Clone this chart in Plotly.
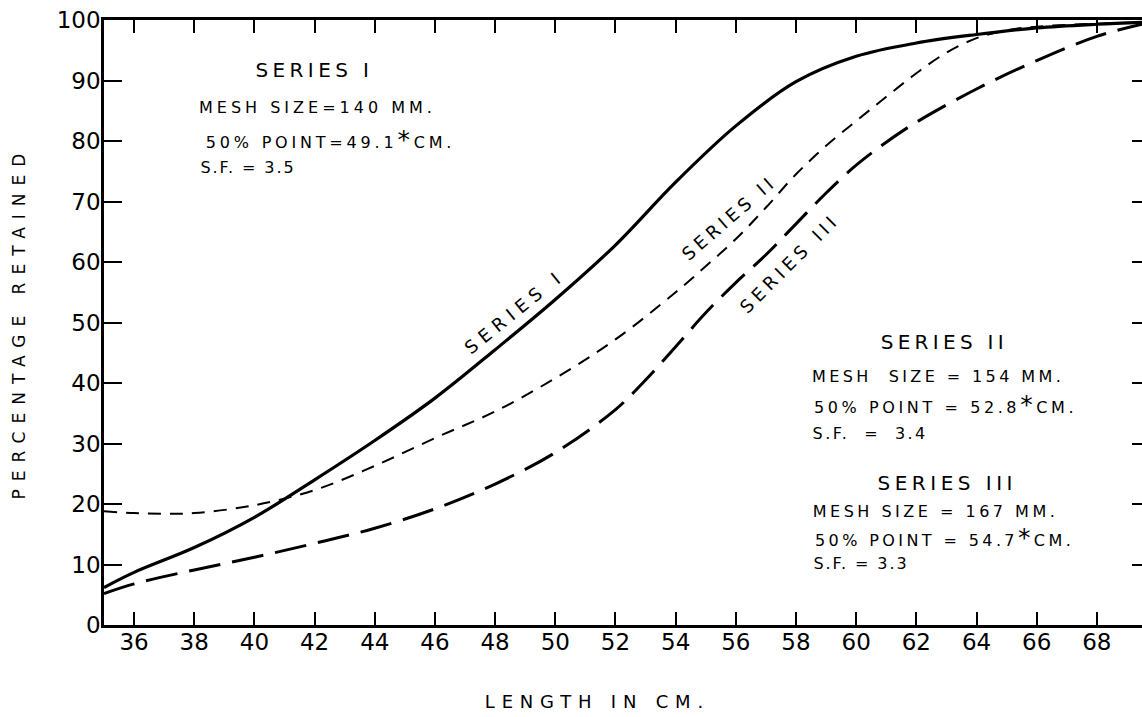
import plotly.graph_objects as go

# ---------------- data ----------------
length_series_1 = [35.0, 36.0, 38.0, 40.0, 42.0, 44.0, 46.0, 48.0, 50.0, 52.0, 54.0, 56.0, 58.0, 60.0, 62.0, 64.0, 66.0, 68.0, 69.5]
retained_series_1 = [6.2, 8.7, 12.8, 17.8, 24.0, 30.5, 37.5, 45.5, 53.8, 62.8, 73.2, 82.5, 89.8, 94.0, 96.2, 97.6, 98.7, 99.3, 99.6]

length_series_2 = [35.0, 36.0, 37.0, 38.0, 40.0, 42.0, 44.0, 46.0, 48.0, 50.0, 52.0, 54.0, 55.0, 56.0, 57.0, 58.0, 59.0, 60.0, 61.0, 62.0, 63.0, 64.0, 65.0, 66.0, 68.0, 69.5]
retained_series_2 = [18.8, 18.5, 18.4, 18.5, 19.8, 22.3, 26.3, 30.9, 35.3, 40.8, 47.2, 55.0, 59.3, 63.8, 69.0, 74.5, 79.2, 83.3, 87.3, 91.2, 94.6, 97.0, 98.3, 98.9, 99.4, 99.6]

length_series_3 = [35.0, 36.0, 38.0, 40.0, 42.0, 44.0, 46.0, 48.0, 50.0, 52.0, 53.0, 54.0, 55.0, 56.0, 57.0, 58.0, 59.0, 60.0, 61.0, 62.0, 64.0, 66.0, 68.0, 69.5]
retained_series_3 = [5.2, 6.8, 9.1, 11.2, 13.5, 16.0, 19.2, 23.3, 28.5, 35.6, 40.5, 46.0, 51.6, 56.6, 61.2, 66.3, 71.4, 76.0, 79.8, 83.1, 88.6, 93.3, 97.3, 99.3]

x_tick_values = list(range(36, 70, 2))
y_tick_values = list(range(0, 101, 10))
right_tick_values = list(range(10, 100, 10))

series_names = ["SERIES I", "SERIES II", "SERIES III"]
mesh_sizes = ["140", "154", "167"]
fifty_points = ["49.1", "52.8", "54.7"]
selection_factors = ["3.5", "3.4", "3.3"]

FONT = "DejaVu Sans"
INK = "#000000"

fig = go.Figure()
fig.add_trace(go.Scatter(x=length_series_1, y=retained_series_1, mode="lines", name=series_names[0],
                         line=dict(color=INK, width=3.2, shape="spline", smoothing=1.0)))
fig.add_trace(go.Scatter(x=length_series_2, y=retained_series_2, mode="lines", name=series_names[1],
                         line=dict(color=INK, width=2, dash="13px,9px", shape="spline", smoothing=1.0)))
fig.add_trace(go.Scatter(x=length_series_3, y=retained_series_3, mode="lines", name=series_names[2],
                         line=dict(color=INK, width=3, dash="32px,12px", shape="spline", smoothing=1.0)))
# empty trace so that the right-hand tick axis (y2) is drawn
fig.add_trace(go.Scatter(x=[], y=[], yaxis="y2", mode="lines", hoverinfo="skip", showlegend=False))

ast = '<span style="font-size:25px">*</span>'
annotations = []
spacings = []

def add(text, x, y, size, spacing, angle=0, xref="x", yref="y"):
    annotations.append(dict(text=text, x=x, y=y, xref=xref, yref=yref, showarrow=False,
                            xanchor="center", yanchor="middle", textangle=angle,
                            font=dict(family=FONT, size=size, color=INK)))
    spacings.append(spacing)

# Series I block (upper left)
add(series_names[0], 41.98, 91.7, 20, 4.4)
add("MESH SIZE=" + mesh_sizes[0] + " MM.", 42.08, 85.6, 16, 4.0)
add("50% POINT=" + fifty_points[0] + ast + "CM.", 42.54, 80.2, 16, 3.8)
add("S.F. = " + selection_factors[0], 39.79, 75.7, 16, 1.9)

# Series II block
add(series_names[1], 62.92, 46.8, 20, 4.3)
add("MESH  SIZE = " + mesh_sizes[1] + " MM.", 62.72, 41.0, 16, 3.4)
add("50% POINT = " + fifty_points[1] + ast + "CM.", 62.98, 36.4, 16, 3.6)
add("S.F.  =  " + selection_factors[1], 60.46, 31.7, 16, 2.4)

# Series III block
add(series_names[2], 63.02, 23.5, 20, 4.5)
add("MESH SIZE = " + mesh_sizes[2] + " MM.", 62.62, 18.7, 16, 3.5)
add("50% POINT = " + fifty_points[2] + ast + "CM.", 62.93, 14.5, 16, 3.4)
add("S.F. = " + selection_factors[2], 60.16, 10.2, 16, 1.9)

# Curve labels
add(series_names[0], 48.63, 51.9, 18, 6.0, angle=-39)
add(series_names[1], 55.78, 67.4, 18, 4.3, angle=-41)
add(series_names[2], 57.77, 59.8, 18, 4.7, angle=-45)

# X axis title
add("LENGTH IN CM.", 0.475, -0.127, 18, 6.8, xref="paper", yref="paper")

fig.update_layout(
    width=1142, height=717,
    margin=dict(l=104, r=0, t=20, b=92),
    paper_bgcolor="white", plot_bgcolor="white",
    showlegend=False,
    font=dict(family=FONT, color=INK),
    annotations=annotations,
    xaxis=dict(range=[35, 69.5], tickmode="array", tickvals=x_tick_values,
               ticks="inside", ticklen=13, tickwidth=2, tickcolor=INK,
               showline=True, linewidth=2.5, linecolor=INK, mirror="ticks",
               showgrid=False, zeroline=False,
               tickfont=dict(family=FONT, size=23, color=INK), ticklabelstandoff=-5),
    yaxis=dict(range=[0, 100], tickmode="array", tickvals=y_tick_values,
               ticks="inside", ticklen=18, tickwidth=2, tickcolor=INK,
               showline=True, linewidth=2.5, linecolor=INK, mirror=False,
               showgrid=False, zeroline=False,
               tickfont=dict(family=FONT, size=23, color=INK), ticklabelstandoff=-4,
               title=dict(text="PERCENTAGE RETAINED", font=dict(family=FONT, size=17, color=INK), standoff=27)),
    yaxis2=dict(range=[0, 100], overlaying="y", side="right", anchor="x",
                tickmode="array", tickvals=right_tick_values,
                ticks="inside", ticklen=10, tickwidth=2, tickcolor=INK,
                showline=False, showticklabels=False, showgrid=False, zeroline=False),
)

post_script = """
(function(){
  document.body.style.margin = '0';
  document.body.style.overflow = 'hidden';
  document.documentElement.style.overflow = 'hidden';
  var sp = %s;
  function apply(){
    var gd = document.getElementById('{plot_id}');
    if (!gd) return;
    gd.querySelectorAll('g.annotation').forEach(function(g){
      var i = +g.getAttribute('data-index');
      var t = g.querySelector('text');
      if (t && sp[i] !== undefined) t.style.letterSpacing = sp[i] + 'px';
    });
    var yt = gd.querySelector('.g-ytitle text');
    if (yt) yt.style.letterSpacing = '8px';
  }
  apply(); setTimeout(apply, 30); setTimeout(apply, 300);
})();
""" % (str(spacings))

fig.write_html("out.html", post_script=post_script, config={"displayModeBar": False})
